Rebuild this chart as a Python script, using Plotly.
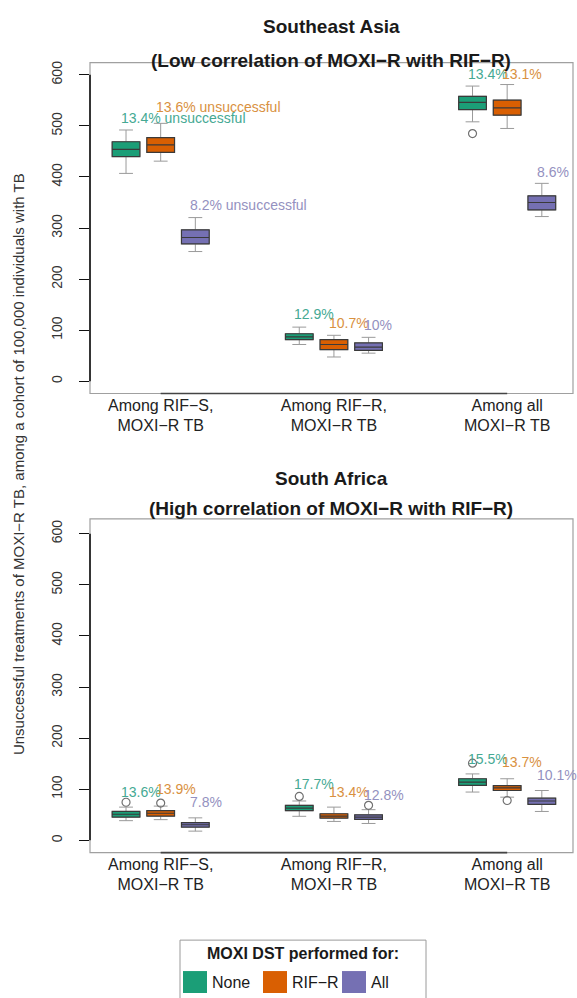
import plotly.graph_objects as go

# ---- data -------------------------------------------------------------
groups = ["Among RIF−S,<br>MOXI−R TB", "Among RIF−R,<br>MOXI−R TB", "Among all<br>MOXI−R TB"]
strategies = ["None", "RIF-R", "All"]
strategy_labels = ["None", "RIF−R", "All"]

# Southeast Asia: box statistics per DST strategy, one value per group
sea_lower = {"None": [407, 72, 508], "RIF-R": [431, 47.5, 495], "All": [254, 55, 322.5]}
sea_q1 = {"None": [440, 81.5, 532], "RIF-R": [448, 62, 521], "All": [269, 60.5, 335.5]}
sea_median = {"None": [454, 87, 546], "RIF-R": [463, 72, 535.5], "All": [281.5, 67, 350]}
sea_q3 = {"None": [469, 93, 558], "RIF-R": [477, 81.5, 550.5], "All": [296.5, 75, 363]}
sea_upper = {"None": [492, 106, 578], "RIF-R": [505, 90, 581], "All": [320.5, 86, 387.5]}
sea_outliers = {"None": [[], [], [485]], "RIF-R": [[], [], []], "All": [[], [], []]}
sea_pct = {"None": ["13.4% unsuccessful", "12.9%", "13.4%"],
           "RIF-R": ["13.6% unsuccessful", "10.7%", "13.1%"],
           "All": ["8.2% unsuccessful", "10%", "8.6%"]}

# South Africa
sa_lower = {"None": [38.5, 47, 94.5], "RIF-R": [40.5, 37, 84.5], "All": [18, 33, 56.5]}
sa_q1 = {"None": [45.5, 58, 107.5], "RIF-R": [47.5, 43.5, 97.5], "All": [26, 41, 70.5]}
sa_median = {"None": [51, 63, 114], "RIF-R": [53, 47.5, 102.5], "All": [30.5, 45.5, 77]}
sa_q3 = {"None": [56.5, 68.5, 120.5], "RIF-R": [58, 52, 107], "All": [34.5, 50, 82.5]}
sa_upper = {"None": [65, 77, 130], "RIF-R": [67, 65, 120.5], "All": [44, 60, 97.5]}
sa_outliers = {"None": [[74.5], [86], [151]], "RIF-R": [[73], [], [78]], "All": [[], [68.5], []]}
sa_pct = {"None": ["13.6%", "17.7%", "15.5%"],
          "RIF-R": ["13.9%", "13.4%", "13.7%"],
          "All": ["7.8%", "12.8%", "10.1%"]}

# vertical placement of the percentage labels
sea_pct_y = {"None": [514.6, 131, 602], "RIF-R": [537.4, 114, 602], "All": [345.3, 111, 410.4]}
sa_pct_y = {"None": [94.4, 110.8, 159.7], "RIF-R": [101, 94.4, 153], "All": [74.8, 89.3, 127]}

yticks = [0, 100, 200, 300, 400, 500, 600]

# ---- styling ----------------------------------------------------------
fill = {"None": "#1B9E77", "RIF-R": "#D95F02", "All": "#7570B3"}
text_col = {"None": "#45a993", "RIF-R": "#d9913f", "All": "#9491c0"}
group_start = [1, 6, 11]
FONT = "Liberation Sans, Arial, sans-serif"

W, H = 577, 998
X_DOM = [90 / W, 573 / W]
Y_DOM_TOP = [1 - 392.3 / H, 1 - 60.7 / H]
Y_DOM_BOT = [1 - 852.3 / H, 1 - 518 / H]
YR_TOP = [-24, 624]
YR_BOT = [-24, 629]
XR = [-0.04, 13.9]

fig = go.Figure()

panels = [
    ("x", "y", sea_lower, sea_q1, sea_median, sea_q3, sea_upper, sea_outliers, sea_pct, sea_pct_y),
    ("x2", "y2", sa_lower, sa_q1, sa_median, sa_q3, sa_upper, sa_outliers, sa_pct, sa_pct_y),
]

annotations = []
for xa, ya, lo, q1, md, q3, up, outl, pct, pct_y in panels:
    for si, s in enumerate(strategies):
        pos = [g + si for g in group_start]
        # whiskers and caps (light grey)
        fig.add_trace(go.Box(
            x=pos, q1=q1[s], median=md[s], q3=q3[s],
            lowerfence=lo[s], upperfence=up[s],
            width=0.8, whiskerwidth=0.5,
            fillcolor="rgba(0,0,0,0)", line=dict(color="#9a9a9a", width=1),
            xaxis=xa, yaxis=ya, showlegend=False, hoverinfo="skip",
        ))
        # filled box with median line
        fig.add_trace(go.Box(
            x=pos, q1=q1[s], median=md[s], q3=q3[s],
            lowerfence=q1[s], upperfence=q3[s],
            width=0.8, whiskerwidth=0,
            fillcolor=fill[s], line=dict(color="#3a3a3a", width=1.2),
            xaxis=xa, yaxis=ya, name=s, showlegend=False,
        ))
        ox, oy = [], []
        for gi, vals in enumerate(outl[s]):
            for v in vals:
                ox.append(pos[gi])
                oy.append(v)
        if ox:
            fig.add_trace(go.Scatter(
                x=ox, y=oy, mode="markers",
                marker=dict(symbol="circle-open", size=8, color="#707070", line=dict(width=1.2)),
                xaxis=xa, yaxis=ya, showlegend=False,
            ))
        for gi in range(3):
            annotations.append(dict(
                x=pos[gi] - 0.2, y=pct_y[s][gi], xref=xa, yref=ya,
                text=pct[s][gi], showarrow=False, xanchor="left", yanchor="middle",
                font=dict(family=FONT, size=14, color=text_col[s]),
            ))

# panel titles
titles = [
    ("Southeast Asia", 25), ("(Low correlation of MOXI−R with RIF−R)", 59),
    ("South Africa", 477), ("(High correlation of MOXI−R with RIF−R)", 508),
]
for t, py in titles:
    annotations.append(dict(
        x=(X_DOM[0] + X_DOM[1]) / 2, y=1 - py / H, xref="paper", yref="paper",
        text=f"<b>{t}</b>", showarrow=False, xanchor="center", yanchor="middle",
        font=dict(family=FONT, size=19, color="#1a1a1a"),
    ))

# shared y-axis title
annotations.append(dict(
    x=18 / W, y=1 - 463 / H, xref="paper", yref="paper", textangle=-90,
    text="Unsuccessful treatments of MOXI−R TB, among a cohort of 100,000 individuals with TB",
    showarrow=False, xanchor="center", yanchor="middle",
    font=dict(family=FONT, size=15, color="#333333"),
))

# legend (drawn in paper coordinates)
shapes = []
shapes.append(dict(type="rect", xref="paper", yref="paper",
                   x0=180 / W, x1=426 / W, y0=-0.01, y1=1 - 940 / H,
                   line=dict(color="#9a9a9a", width=1), fillcolor="white"))
annotations.append(dict(
    x=302.5 / W, y=1 - 953 / H, xref="paper", yref="paper",
    text="<b>MOXI DST performed for:</b>", showarrow=False,
    xanchor="center", yanchor="middle", font=dict(family=FONT, size=16, color="#1a1a1a"),
))
key_x = [183, 263, 342]
for s, lab, kx in zip(strategies, strategy_labels, key_x):
    shapes.append(dict(type="rect", xref="paper", yref="paper",
                       x0=kx / W, x1=(kx + 24) / W, y0=1 - 993 / H, y1=1 - 971 / H,
                       line=dict(width=0), fillcolor=fill[s]))
    annotations.append(dict(
        x=(kx + 27) / W, y=1 - 982 / H, xref="paper", yref="paper",
        text=lab, showarrow=False, xanchor="left", yanchor="middle",
        font=dict(family=FONT, size=16, color="#1a1a1a"),
    ))

# frames, y-axis spines and x-axis lines
for xa, ya in [("x", "y"), ("x2", "y2")]:
    shapes.append(dict(type="rect", xref=f"{xa} domain", yref=f"{ya} domain",
                       x0=0, x1=1, y0=0, y1=1, line=dict(color="#a0a0a0", width=1.2), layer="below"))
    shapes.append(dict(type="line", xref=f"{xa} domain", yref=ya,
                       x0=0, x1=0, y0=0, y1=600, line=dict(color="#111111", width=1.6)))
    shapes.append(dict(type="line", xref=xa, yref=f"{ya} domain",
                       x0=2, x1=12, y0=0, y1=0, line=dict(color="#444444", width=1.6)))

xaxis_common = dict(
    domain=X_DOM, range=XR, showgrid=False, zeroline=False, showline=False,
    tickmode="array", tickvals=[2, 7, 12], ticktext=groups, ticks="",
    tickfont=dict(family=FONT, size=16, color="#222222"),
)
yaxis_common = dict(
    showgrid=False, zeroline=False, showline=False,
    tickmode="array", tickvals=yticks, ticktext=[str(v) for v in yticks],
    ticks="outside", ticklen=10, tickwidth=1.4, tickcolor="#111111",
    ticklabelstandoff=11,
    tickangle=-90, tickfont=dict(family=FONT, size=14, color="#333333"),
)

fig.update_layout(
    width=W, height=H, margin=dict(l=0, r=0, t=0, b=0),
    paper_bgcolor="white", plot_bgcolor="white",
    boxmode="overlay",
    xaxis=dict(anchor="y", **xaxis_common),
    xaxis2=dict(anchor="y2", **xaxis_common),
    yaxis=dict(anchor="x", domain=Y_DOM_TOP, range=YR_TOP, **yaxis_common),
    yaxis2=dict(anchor="x2", domain=Y_DOM_BOT, range=YR_BOT, **yaxis_common),
    annotations=annotations, shapes=shapes, showlegend=False,
)

fig.write_html("out.html")
